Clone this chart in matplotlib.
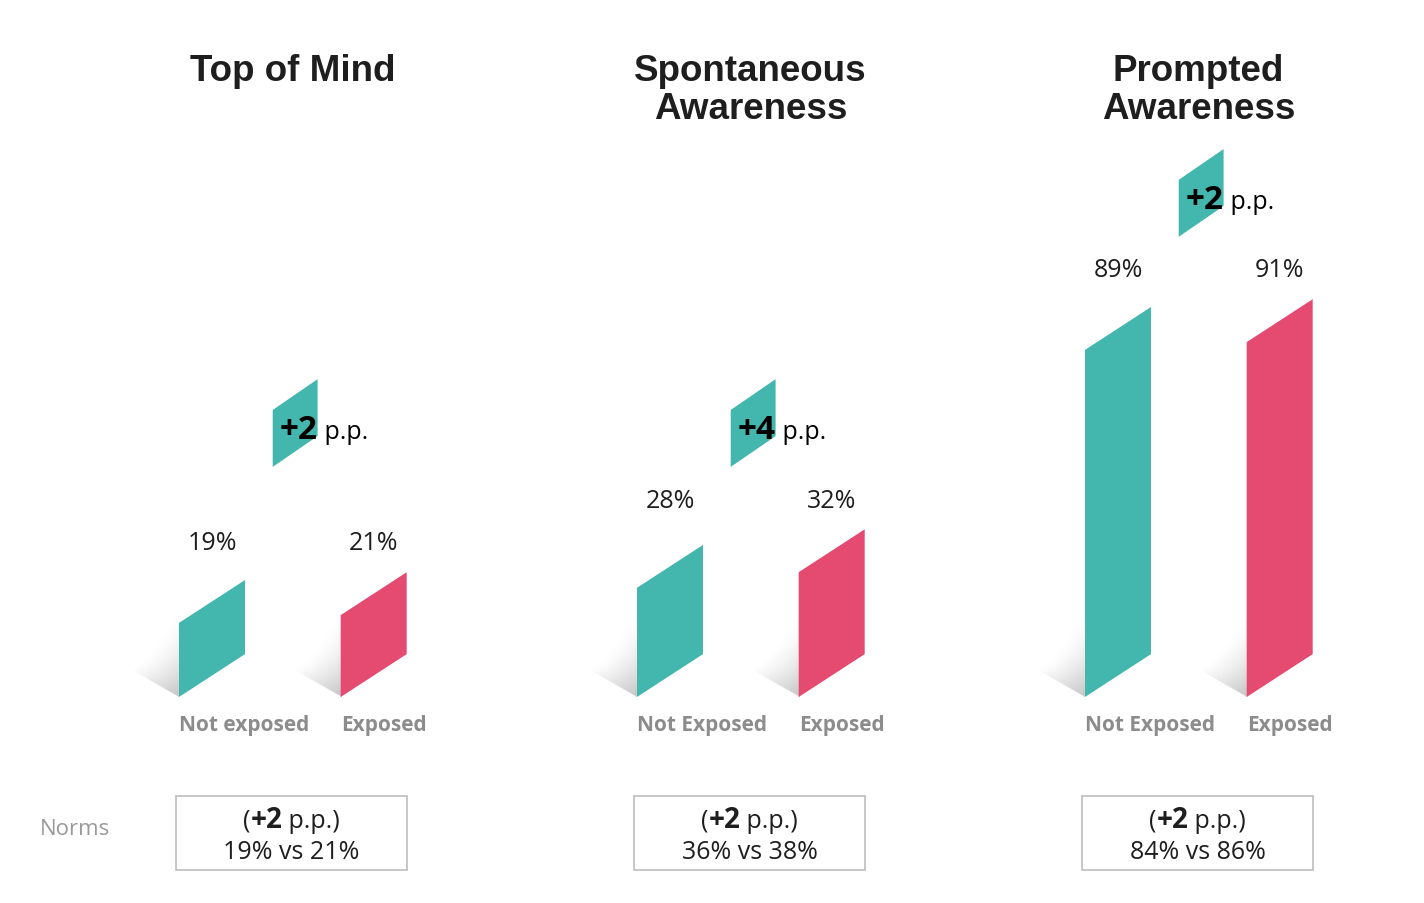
import matplotlib
matplotlib.use("Agg")
import matplotlib.pyplot as plt
import numpy as np
from matplotlib.patches import Polygon, Rectangle
from matplotlib.offsetbox import TextArea, HPacker, VPacker, AnnotationBbox

# -------------------------------
# DATA
# -------------------------------
titles = ["Top of Mind", "Spontaneous\nAwareness", "Prompted\nAwareness"]
not_exposed = [19, 28, 89]
exposed = [21, 32, 91]
left_labels = ["Not exposed", "Not Exposed", "Not Exposed"]
right_labels = ["Exposed", "Exposed", "Exposed"]
norm_delta = [2, 2, 2]
norm_not_exposed = [19, 36, 84]
norm_exposed = [21, 38, 86]

TEAL = "#43B7AE"
PINK = "#E54A70"
GREY_LABEL = "#8c8c8c"
TEXT = "#1e1e1e"

FONT = "Open Sans"
TITLE_FONT = "Liberation Sans"

# layout (pixels)
W, H = 1424, 904
PX_X = 66.0    # one bar width in pixels
PX_Y = 3.9     # pixels per percentage point
BASE_PX = 698  # baseline, from top
panel_left_px = [179, 637, 1085]
XMIN, XMAX = -1.0, 3.6
YMIN, YMAX = -50, 175
SKEW = 11.0        # rise of the bar's top edge, in %
PINK_X = 2.45      # x offset of the pink bar


def parallelogram(ax, x0, y0, w, h, skew, color, z=3):
    pts = [(x0, y0), (x0 + w, y0 + skew), (x0 + w, y0 + skew + h), (x0, y0 + h)]
    ax.add_patch(Polygon(pts, closed=True, facecolor=color, edgecolor="none",
                         zorder=z, clip_on=False))


def shadow(ax, x0):
    # soft grey floor shadow to the left of a bar
    px = np.linspace(-55, 0, 140)
    py = np.linspace(0, 110, 220)
    PXg, PYg = np.meshgrid(px, py)
    u = -PXg / 48.0
    bottom = -PXg * 24.0 / 42.0
    top = 95.0 * (1 - u) + bottom * u
    h = (PYg - bottom) / np.maximum(top - bottom, 1e-6)
    inside = (u <= 1) & (h >= 0) & (h <= 1)
    a = np.clip(1 - u, 0, 1) ** 1.1 * np.clip(1 - h, 0, 1) ** 2.0
    a = np.where(inside, a, 0) * 0.4
    img = np.zeros(PXg.shape + (4,))
    img[..., :3] = 0.42
    img[..., 3] = a
    ax.imshow(img, extent=[x0 - 55 / PX_X, x0, 0, 110 / PX_Y], origin="lower",
              aspect="auto", interpolation="bilinear", zorder=1, clip_on=False)


fig = plt.figure(figsize=(W / 100, H / 100), dpi=100)
fig.patch.set_facecolor("white")

for i in range(3):
    left_px = panel_left_px[i] + XMIN * PX_X
    bottom_px = (H - BASE_PX) + YMIN * PX_Y
    ax = fig.add_axes([left_px / W, bottom_px / H,
                       (XMAX - XMIN) * PX_X / W, (YMAX - YMIN) * PX_Y / H])
    ax.set_axis_off()

    vals = [not_exposed[i], exposed[i]]
    xs = [0.0, PINK_X]
    cols = [TEAL, PINK]
    for x0, v, c in zip(xs, vals, cols):
        shadow(ax, x0)
        parallelogram(ax, x0, 0, 1.0, v, SKEW, c)

    # value labels
    label_y = max(vals) + SKEW + 7.5
    for x0, v in zip(xs, vals):
        ax.text(x0 + 0.5, label_y, f"{v}%", ha="center", va="center",
                fontsize=18, family=FONT, color=TEXT)

    # category labels
    ax.text(0.0, -7.0, left_labels[i], ha="left", va="center", fontsize=15,
            family=FONT, fontweight="bold", color=GREY_LABEL)
    ax.text(PINK_X, -7.0, right_labels[i], ha="left", va="center", fontsize=15,
            family=FONT, fontweight="bold", color=GREY_LABEL)

    # delta badge
    diff = vals[1] - vals[0]
    base = max(59.0, label_y + 8.5)
    parallelogram(ax, 1.42, base, 0.68, 14.6, 7.9, TEAL, z=3)
    delta = HPacker(children=[
        TextArea(f"+{diff}", textprops=dict(fontsize=24, family=FONT,
                                              fontweight="bold", color="black")),
        TextArea(" p.p.", textprops=dict(fontsize=18, family=FONT, color="black")),
    ], align="baseline", pad=0, sep=0)
    ab = AnnotationBbox(delta, (1.53, base + 9.5), xycoords="data",
                        box_alignment=(0, 0.5), frameon=False, pad=0,
                        annotation_clip=False, zorder=5)
    ax.add_artist(ab)

    # title
    ax.text(1.72, (BASE_PX - 54) / PX_Y, titles[i], ha="center", va="top",
            fontsize=26.5, family=TITLE_FONT, fontweight="bold", color=TEXT,
            linespacing=1.12)

    # norms box
    ax.add_patch(Rectangle((-0.045, -44.4), 3.5, 19.0, facecolor="white",
                           edgecolor="#bdbdbd", linewidth=1.2, clip_on=False,
                           zorder=2))
    line1 = HPacker(children=[
        TextArea("(", textprops=dict(fontsize=18, family=FONT, color=TEXT)),
        TextArea(f"+{norm_delta[i]}", textprops=dict(fontsize=20, family=FONT,
                                                      fontweight="bold", color=TEXT)),
        TextArea(" p.p.)", textprops=dict(fontsize=18, family=FONT, color=TEXT)),
    ], align="baseline", pad=0, sep=0)
    line2 = TextArea(f"{norm_not_exposed[i]}% vs {norm_exposed[i]}%",
                     textprops=dict(fontsize=18, family=FONT, color=TEXT))
    norms = VPacker(children=[line1, line2], align="center", pad=0, sep=4)
    ab = AnnotationBbox(norms, (1.705, -35.2), xycoords="data",
                        box_alignment=(0.5, 0.5), frameon=False, pad=0,
                        annotation_clip=False, zorder=5)
    ax.add_artist(ab)

    ax.set_xlim(XMIN, XMAX)
    ax.set_ylim(YMIN, YMAX)

fig.text(40 / W, (H - 830) / H, "Norms", ha="left", va="center", fontsize=16,
         family=FONT, color="#9a9a9a")

fig.savefig("out.png", dpi=100, facecolor="white")
